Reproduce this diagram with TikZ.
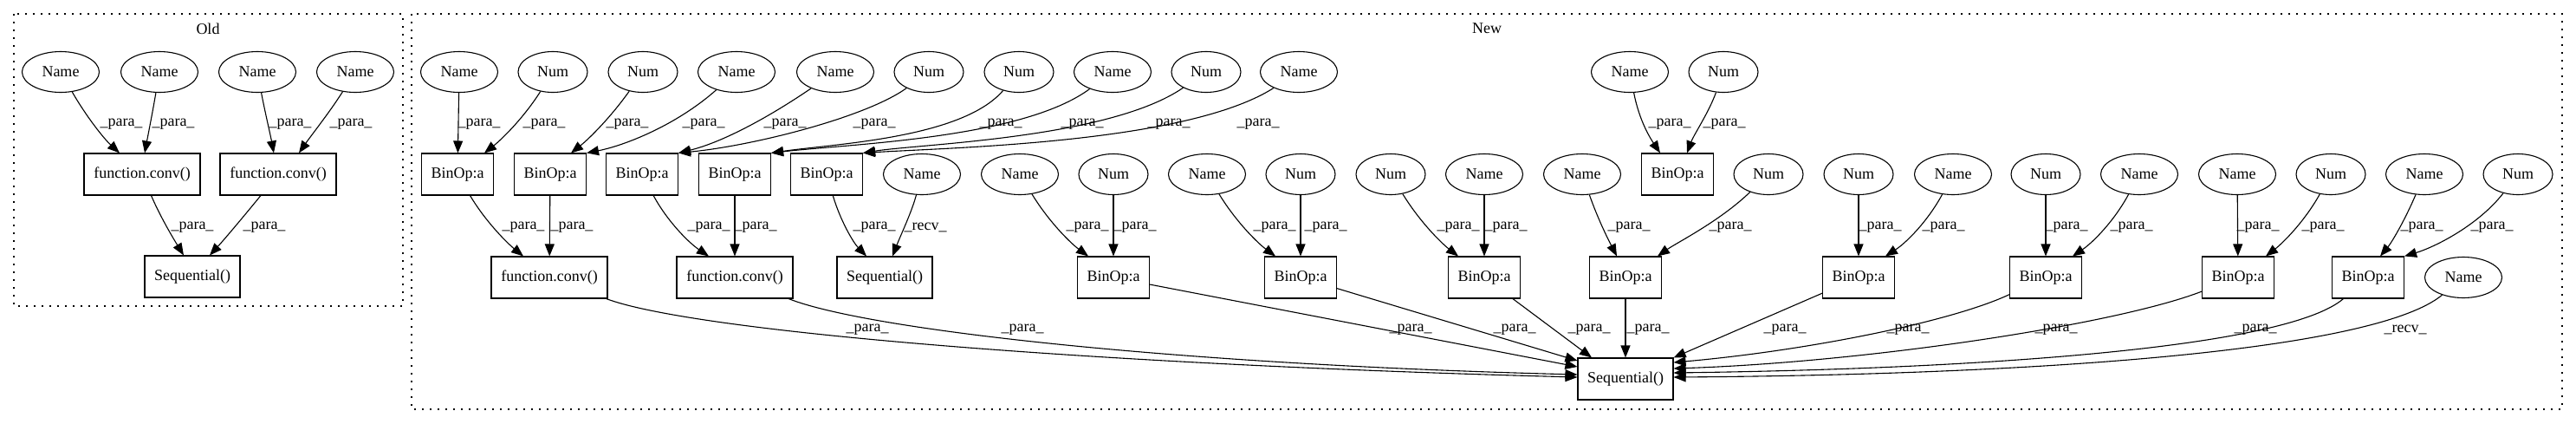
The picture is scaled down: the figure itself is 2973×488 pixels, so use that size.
\documentclass[tikz,border=0pt]{standalone}
\usepackage{fontspec}
\setmainfont{Liberation Serif}
\usetikzlibrary{shapes.geometric,arrows.meta}
\begin{document}
\begin{tikzpicture}[x=0.5pt,y=-0.5pt,
  every node/.style={font=\fontsize{9}{10}\selectfont},
  nm/.style={draw,ellipse,line width=0.55pt,minimum width=44.5pt,minimum height=23.5pt,inner sep=0pt},
  nu/.style={nm,minimum width=40pt},
  bx/.style={draw,rectangle,line width=0.55pt,minimum height=24pt,inner sep=0pt},
  bop/.style={bx,minimum width=41.5pt},
  cnv/.style={bx,minimum width=67pt},
  sq/.style={bx,minimum width=55pt},
  e/.style={line width=0.55pt,-{Triangle[length=7pt,width=5.5pt]}},
  lbl/.style={inner sep=0pt},
  clu/.style={line width=0.8pt,dash pattern=on 0.8pt off 3.7pt}
]
\useasboundingbox (0,0) rectangle (2973,488);

% clusters
\draw[clu] (16,16) rectangle (465,353);
\node (oldt) at (240,33) {Old};
\draw[clu] (475,16) rectangle (2957,472);
\node (newt) at (1716,33) {New};

% ---------- Old ----------
\node[nm] (oN1) at (70,83) {Name};
\node[nm] (oN2) at (184,83) {Name};
\node[nm] (oN3) at (297,83) {Name};
\node[nm] (oN4) at (410,83) {Name};
\node[cnv] (oC1) at (164,201) {function.conv()};
\node[cnv] (oC2) at (321,201) {function.conv()};
\node[sq] (oS) at (222,319) {Sequential()};

\draw[e] (oN1) .. controls (100,135) and (120,160) .. ([shift={(-26,0)}]oC1.north);
\draw[e] (oN2) .. controls (176,130) and (171,155) .. ([shift={(3,0)}]oC1.north);
\draw[e] (oN3) .. controls (306,130) and (312,155) .. ([shift={(-5,0)}]oC2.north);
\draw[e] (oN4) .. controls (380,130) and (360,155) .. ([shift={(24,0)}]oC2.north);
\draw[e] (oC1) .. controls (185,250) and (200,275) .. ([shift={(-10,0)}]oS.north);
\draw[e] (oC2) .. controls (285,245) and (260,275) .. ([shift={(20,0)}]oS.north);
\node[lbl] (ol1) at (140,143) {\_para\_};
\node[lbl] (ol2) at (200,143) {\_para\_};
\node[lbl] (ol3) at (335,143) {\_para\_};
\node[lbl] (ol4) at (405,143) {\_para\_};
\node[lbl] (ol5) at (222,262) {\_para\_};
\node[lbl] (ol6) at (305,262) {\_para\_};

% ---------- New: top row ----------
\node[nm] (T1) at (530,83) {Name};
\node[nu] (T2) at (638,83) {Num};
\node[nu] (T3) at (742,83) {Num};
\node[nm] (T4) at (850,83) {Name};
\node[nm] (T5) at (964,83) {Name};
\node[nu] (T6) at (1072,83) {Num};
\node[nu] (T7) at (1176,83) {Num};
\node[nm] (T8) at (1284,83) {Name};
\node[nu] (T9) at (1392,83) {Num};
\node[nm] (T10) at (1499,83) {Name};
\node[nm] (T11) at (1881,83) {Name};
\node[nu] (T12) at (1989,83) {Num};

% row 2
\node[bop] (B1) at (528,201) {BinOp:a};
\node[bop] (B2) at (635,201) {BinOp:a};
\node[bop] (B3) at (741,201) {BinOp:a};
\node[bop] (B4) at (848,201) {BinOp:a};
\node[bop] (B5) at (954,201) {BinOp:a};
\node[nm] (R1) at (1064,201) {Name};
\node[nm] (R2) at (1177,201) {Name};
\node[nu] (R3) at (1285,201) {Num};
\node[nm] (R4) at (1393,201) {Name};
\node[nu] (R5) at (1501,201) {Num};
\node[nu] (R6) at (1605,201) {Num};
\node[nm] (R7) at (1713,201) {Name};
\node[nm] (R8) at (1826,201) {Name};
\node[bop] (BT) at (1936,201) {BinOp:a};
\node[nu] (R9) at (2041,201) {Num};
\node[nu] (R10) at (2145,201) {Num};
\node[nm] (R11) at (2254,201) {Name};
\node[nu] (R12) at (2361,201) {Num};
\node[nm] (R13) at (2469,201) {Name};
\node[nm] (R14) at (2582,201) {Name};
\node[nu] (R15) at (2690,201) {Num};
\node[nm] (R16) at (2798,201) {Name};
\node[nu] (R17) at (2906,201) {Num};

% row 3
\node[cnv] (C1) at (634,320) {function.conv()};
\node[cnv] (C2) at (848,320) {function.conv()};
\node[sq] (S1) at (1021,320) {Sequential()};
\node[bop] (D1) at (1285,320) {BinOp:a};
\node[bop] (D2) at (1501,320) {BinOp:a};
\node[bop] (D3) at (1713,320) {BinOp:a};
\node[bop] (D4) at (1876,320) {BinOp:a};
\node[bop] (D5) at (2145,320) {BinOp:a};
\node[bop] (D6) at (2361,320) {BinOp:a};
\node[bop] (D7) at (2583,320) {BinOp:a};
\node[bop] (D8) at (2733,320) {BinOp:a};
\node[nm] (RN) at (2843,320) {Name};

% row 4
\node[sq] (SF) at (1876,437) {Sequential()};

% edges top -> row 2
\draw[e] (T1) -- (B1);
\draw[e] (T2) .. controls (605,135) and (580,160) .. ([shift={(31,0)}]B1.north);
\draw[e] (T3) .. controls (705,135) and (680,160) .. ([shift={(24,0)}]B2.north);
\draw[e] (T4) .. controls (780,145) and (720,168) .. (B2.north east);
\draw[e] (T5) .. controls (880,140) and (830,165) .. (B3.north east);
\draw[e] (T6) .. controls (1000,135) and (870,168) .. (B3.north east);
\draw[e] (T7) .. controls (1110,160) and (960,166) .. (B4.north east);
\draw[e] (T8) .. controls (1180,160) and (980,166) .. (B4.north east);
\draw[e] (T9) .. controls (1280,160) and (1060,166) .. (B5.north east);
\draw[e] (T10) .. controls (1370,165) and (1100,170) .. (B5.north east);
\draw[e] (T11) .. controls (1892,140) and (1905,160) .. ([shift={(-20,0)}]BT.north);
\draw[e] (T12) .. controls (1972,130) and (1955,155) .. ([shift={(11,0)}]BT.north);

\node[lbl] (lt1) at (553,143) {\_para\_};
\node[lbl] (lt2) at (628,143) {\_para\_};
\node[lbl] (lt3) at (724,143) {\_para\_};
\node[lbl] (lt4) at (812,143) {\_para\_};
\node[lbl] (lt5) at (906,143) {\_para\_};
\node[lbl] (lt6) at (1009,143) {\_para\_};
\node[lbl] (lt7) at (1155,143) {\_para\_};
\node[lbl] (lt8) at (1249,143) {\_para\_};
\node[lbl] (lt9) at (1349,143) {\_para\_};
\node[lbl] (lt10) at (1452,143) {\_para\_};
\node[lbl] (lt11) at (1927,143) {\_para\_};
\node[lbl] (lt12) at (1990,143) {\_para\_};

% edges row 2 -> row 3
\draw[e] (B1) .. controls (560,255) and (585,280) .. ([shift={(-30,0)}]C1.north);
\draw[e] (B2) -- (C1);
\draw[e] (B3) .. controls (770,255) and (795,280) .. ([shift={(-30,0)}]C2.north);
\draw[e] (B4) -- (C2);
\draw[e] (B5) .. controls (970,255) and (985,280) .. ([shift={(-21,0)}]S1.north);
\draw[e] (R1) .. controls (1052,245) and (1040,270) .. ([shift={(9,0)}]S1.north);
\draw[e] (R2) .. controls (1210,255) and (1235,280) .. ([shift={(-29,0)}]D1.north);
\draw[e] (R3) -- (D1);
\draw[e] (R4) .. controls (1426,255) and (1451,280) .. ([shift={(-29,0)}]D2.north);
\draw[e] (R5) -- (D2);
\draw[e] (R6) .. controls (1638,255) and (1663,280) .. ([shift={(-30,0)}]D3.north);
\draw[e] (R7) -- (D3);
\draw[e] (R8) .. controls (1845,255) and (1858,280) .. ([shift={(-10,0)}]D4.north);
\draw[e] (R9) .. controls (1985,255) and (1935,280) .. ([shift={(37,0)}]D4.north);
\draw[e] (R10) -- (D5);
\draw[e] (R11) .. controls (2225,255) and (2200,280) .. ([shift={(31,0)}]D5.north);
\draw[e] (R12) -- (D6);
\draw[e] (R13) .. controls (2440,255) and (2415,280) .. ([shift={(31,0)}]D6.north);
\draw[e] (R14) -- (D7);
\draw[e] (R15) .. controls (2660,255) and (2635,280) .. ([shift={(32,0)}]D7.north);
\draw[e] (R16) .. controls (2775,255) and (2760,280) .. ([shift={(14,0)}]D8.north);
\draw[e] (R17) .. controls (2860,260) and (2810,285) .. (D8.north east);

\node[lbl] (lm1) at (604,262) {\_para\_};
\node[lbl] (lm2) at (660,262) {\_para\_};
\node[lbl] (lm3) at (818,262) {\_para\_};
\node[lbl] (lm4) at (872,262) {\_para\_};
\node[lbl] (lm5) at (1009,262) {\_para\_};
\node[lbl] (lm6) at (1068,262) {\_recv\_};
\node[lbl] (lm7) at (1255,262) {\_para\_};
\node[lbl] (lm8) at (1310,262) {\_para\_};
\node[lbl] (lm9) at (1471,262) {\_para\_};
\node[lbl] (lm10) at (1530,262) {\_para\_};
\node[lbl] (lm11) at (1683,262) {\_para\_};
\node[lbl] (lm12) at (1738,262) {\_para\_};
\node[lbl] (lm13) at (1880,262) {\_para\_};
\node[lbl] (lm14) at (1997,262) {\_para\_};
\node[lbl] (lm15) at (2170,262) {\_para\_};
\node[lbl] (lm16) at (2243,262) {\_para\_};
\node[lbl] (lm17) at (2385,262) {\_para\_};
\node[lbl] (lm18) at (2460,262) {\_para\_};
\node[lbl] (lm19) at (2606,262) {\_para\_};
\node[lbl] (lm20) at (2681,262) {\_para\_};
\node[lbl] (lm21) at (2795,262) {\_para\_};
\node[lbl] (lm22) at (2876,262) {\_para\_};

% edges row 3 -> final Sequential
\draw[e] (C1) .. controls (800,382) and (1250,420) .. ([shift={(0,-2)}]SF.west);
\draw[e] (C2) .. controls (1000,380) and (1350,420) .. ([shift={(0,-5)}]SF.west);
\draw[e] (D1) -- ([shift={(0,-14)}]SF.west);
\draw[e] (D2) -- ([shift={(0,-21)}]SF.west);
\draw[e] (D3) -- ([shift={(-39,0)}]SF.north);
\draw[e] (D4) -- (SF);
\draw[e] (D5) -- (SF.north east);
\draw[e] (D6) .. controls (2250,372) and (2080,405) .. ([shift={(0,-19)}]SF.east);
\draw[e] (D7) .. controls (2440,375) and (2150,418) .. ([shift={(0,-12)}]SF.east);
\draw[e] (D8) .. controls (2640,400) and (2300,425) .. ([shift={(0,-7)}]SF.east);
\draw[e] (RN) .. controls (2740,405) and (2350,432) .. ([shift={(0,-2)}]SF.east);

\node[lbl] (lb1) at (1001,380) {\_para\_};
\node[lbl] (lb2) at (1180,380) {\_para\_};
\node[lbl] (lb3) at (1628,380) {\_para\_};
\node[lbl] (lb4) at (1748,380) {\_para\_};
\node[lbl] (lb5) at (1834,380) {\_para\_};
\node[lbl] (lb6) at (1902,380) {\_para\_};
\node[lbl] (lb7) at (2060,380) {\_para\_};
\node[lbl] (lb8) at (2202,380) {\_para\_};
\node[lbl] (lb9) at (2373,380) {\_para\_};
\node[lbl] (lb10) at (2603,380) {\_para\_};
\node[lbl] (lb11) at (2776,380) {\_recv\_};
\end{tikzpicture}
\end{document}
